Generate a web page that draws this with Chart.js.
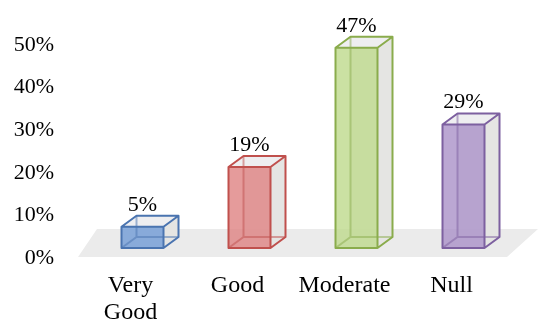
<!DOCTYPE html>
<html>
<head>
<meta charset="utf-8">
<script src="https://cdn.jsdelivr.net/npm/chart.js@4.4.0/dist/chart.umd.min.js"></script>
<style>
  html, body { margin: 0; padding: 0; background: #fff; }
  #wrap { width: 538px; height: 321px; }
</style>
</head>
<body>
<div id="wrap"><canvas id="c"></canvas></div>
<script>
// ===== Dữ liệu =====
const categories = [['Very', 'Good'], 'Good', 'Moderate', 'Null'];
const values = [5, 19, 47, 29];
const valueLabels = ['5%', '19%', '47%', '29%'];
const fillColors = ['rgba(120,160,215,0.85)', 'rgba(222,130,130,0.8)', 'rgba(190,218,140,0.8)', 'rgba(170,145,200,0.8)'];
const lineColors = ['#4a74b0', '#c0504d', '#8aac4c', '#7d60a0'];

// 3D offsets
const FRONT_DX = 12, FRONT_DY = -10;
const DEPTH_DX = 15, DEPTH_DY = -11;

const box3d = {
  id: 'box3d',
  beforeDatasetsDraw(chart) {
    // sàn xám
    const { ctx, chartArea } = chart;
    const y0 = chart.scales.y.getPixelForValue(0);
    ctx.save();
    ctx.fillStyle = '#ebebeb';
    ctx.beginPath();
    ctx.moveTo(chartArea.left + 1, y0 - 1);
    ctx.lineTo(chartArea.right + 2, y0 - 1);
    ctx.lineTo(chartArea.right + 33, y0 - 29);
    ctx.lineTo(chartArea.left + 20, y0 - 29);
    ctx.closePath();
    ctx.fill();
    ctx.restore();
  },
  afterDatasetsDraw(chart) {
    const { ctx } = chart;
    const yScale = chart.scales.y;
    const meta = chart.getDatasetMeta(0);
    meta.data.forEach((bar, i) => {
      const w = bar.width;
      const x1 = bar.x - w / 2 + FRONT_DX, x2 = bar.x + w / 2 + FRONT_DX;
      const yb = yScale.getPixelForValue(0) + FRONT_DY;
      const yt = yScale.getPixelForValue(values[i]) + FRONT_DY;
      const dx = DEPTH_DX, dy = DEPTH_DY;
      ctx.save();
      ctx.lineWidth = 2;
      ctx.lineJoin = 'round';
      // mặt sau
      ctx.fillStyle = 'rgba(225,225,228,0.6)';
      ctx.fillRect(x1 + dx, yt + dy, w, yb - yt);
      // mặt bên phải
      ctx.fillStyle = 'rgba(228,228,226,0.9)';
      ctx.beginPath();
      ctx.moveTo(x2, yt); ctx.lineTo(x2 + dx, yt + dy); ctx.lineTo(x2 + dx, yb + dy); ctx.lineTo(x2, yb);
      ctx.closePath(); ctx.fill();
      // mặt trên
      ctx.fillStyle = 'rgba(238,238,240,0.95)';
      ctx.beginPath();
      ctx.moveTo(x1, yt); ctx.lineTo(x1 + dx, yt + dy); ctx.lineTo(x2 + dx, yt + dy); ctx.lineTo(x2, yt);
      ctx.closePath(); ctx.fill();
      // mặt trước
      ctx.fillStyle = fillColors[i];
      ctx.fillRect(x1, yt, w, yb - yt);
      // cạnh khuất
      ctx.strokeStyle = lineColors[i];
      ctx.globalAlpha = 0.5;
      ctx.beginPath();
      ctx.moveTo(x1 + dx, yt + dy); ctx.lineTo(x1 + dx, yb + dy); ctx.lineTo(x2 + dx, yb + dy);
      ctx.moveTo(x1, yb); ctx.lineTo(x1 + dx, yb + dy);
      ctx.stroke();
      ctx.globalAlpha = 1;
      // viền
      ctx.beginPath();
      ctx.rect(x1, yt, w, yb - yt);
      ctx.moveTo(x1, yt); ctx.lineTo(x1 + dx, yt + dy); ctx.lineTo(x2 + dx, yt + dy); ctx.lineTo(x2, yt);
      ctx.moveTo(x2 + dx, yt + dy); ctx.lineTo(x2 + dx, yb + dy); ctx.lineTo(x2, yb);
      ctx.stroke();
      // nhãn giá trị
      ctx.fillStyle = '#000';
      ctx.font = '22px "Liberation Serif", "Times New Roman", serif';
      ctx.textAlign = 'center';
      ctx.textBaseline = 'alphabetic';
      ctx.fillText(valueLabels[i], (x1 + x2) / 2, yt + dy - 5);
      ctx.restore();
    });
  }
};

new Chart(document.getElementById('c'), {
  type: 'bar',
  data: {
    labels: categories,
    datasets: [{ data: values, backgroundColor: 'rgba(0,0,0,0)', borderWidth: 0, barThickness: 42 }]
  },
  options: {
    responsive: true,
    maintainAspectRatio: false,
    animation: false,
    layout: { padding: { top: 45, right: 33, left: 0, bottom: 0 } },
    plugins: { legend: { display: false }, tooltip: { enabled: false } },
    scales: {
      x: {
        grid: { display: false, drawTicks: false },
        border: { display: false },
        ticks: { color: '#000', padding: 14, maxRotation: 0, font: { family: '"Liberation Serif", serif', size: 24, lineHeight: 1.13 } },
        afterFit: s => { s.height = 63; }
      },
      y: {
        min: 0, max: 50,
        grid: { display: false, drawTicks: false },
        border: { display: false },
        ticks: { stepSize: 10, color: '#000', padding: 23, callback: v => v + '%', font: { family: '"Liberation Serif", serif', size: 22 } },
        afterFit: s => { s.width = 77; }
      }
    }
  },
  plugins: [box3d]
});
</script>
</body>
</html>
